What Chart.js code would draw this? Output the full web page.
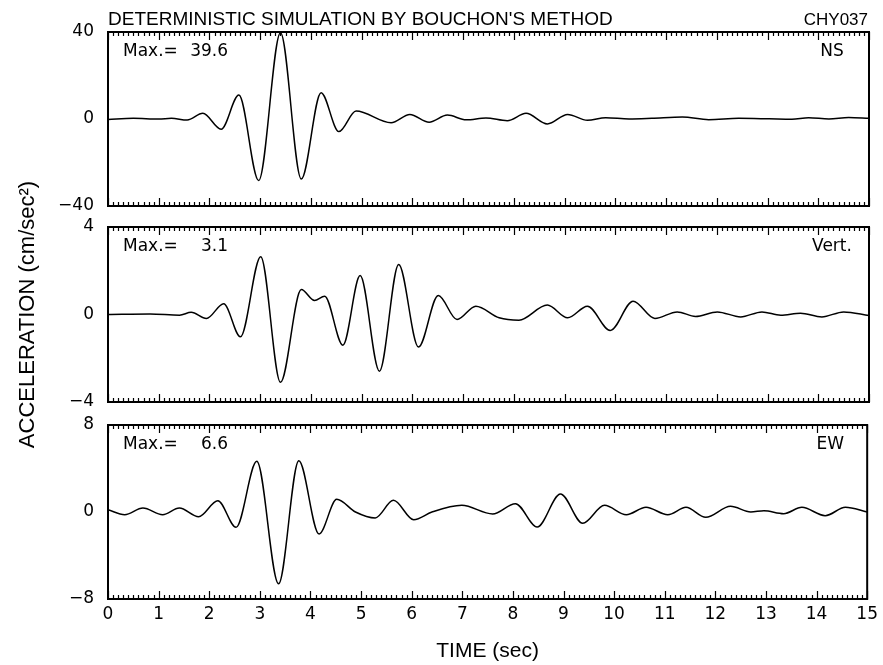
<!DOCTYPE html>
<html>
<head>
<meta charset="utf-8">
<title>CHY037 deterministic simulation</title>
<script src="https://cdn.jsdelivr.net/npm/chart.js@4/dist/chart.umd.min.js"></script>
<style>
  body { margin: 0; background: #fff; }
  #wrap { position: relative; width: 883px; height: 665px; }
  #wrap canvas { position: absolute; left: 0; top: 0; }
</style>
</head>
<body>
<div id="wrap">
  <canvas id="ns" width="883" height="665"></canvas>
  <canvas id="vert" width="883" height="665"></canvas>
  <canvas id="ew" width="883" height="665"></canvas>
</div>
<script>
// --- data ---
const nsTime = [0, 0.5, 1.0, 1.25, 1.56, 1.87, 2.23, 2.58, 2.97, 3.40, 3.81, 4.20, 4.55, 4.89, 5.58, 5.95, 6.33, 6.69, 7.06, 7.45, 7.87, 8.24, 8.66, 9.06, 9.45, 9.81, 10.27, 10.72, 11.32, 11.84, 12.43, 13.03, 13.48, 13.81, 14.21, 14.60, 15.0];
const nsAccel = [-0.2, 0.3, 0.0, 0.3, -0.5, 2.6, -4.7, 11.0, -28.3, 39.6, -27.6, 12.1, -5.8, 3.7, -1.7, 2.1, -1.5, 1.8, -0.4, 0.5, -0.8, 2.6, -2.3, 2.1, -0.6, 0.6, 0.0, 0.3, 0.9, -0.3, 0.3, 0.1, -0.1, 0.6, 0.0, 0.7, 0.3];

const vertTime = [0, 0.83, 1.41, 1.64, 1.94, 2.28, 2.61, 3.01, 3.40, 3.81, 4.07, 4.27, 4.63, 4.97, 5.35, 5.73, 6.12, 6.51, 6.88, 7.25, 7.71, 8.10, 8.66, 9.06, 9.45, 9.90, 10.35, 10.78, 11.22, 11.58, 12.01, 12.47, 12.89, 13.26, 13.65, 14.07, 14.50, 15.0];
const vertAccel = [0, 0.02, -0.03, 0.1, -0.18, 0.49, -1.02, 2.64, -3.1, 1.14, 0.64, 0.84, -1.40, 1.78, -2.59, 2.29, -1.49, 0.87, -0.23, 0.38, -0.15, -0.26, 0.43, -0.15, 0.38, -0.73, 0.61, -0.18, 0.12, -0.09, 0.12, -0.11, 0.12, -0.03, 0.06, -0.11, 0.12, -0.05];

const ewTime = [0, 0.33, 0.69, 1.08, 1.41, 1.79, 2.17, 2.53, 2.94, 3.37, 3.77, 4.17, 4.52, 4.89, 5.28, 5.64, 6.04, 6.40, 6.99, 7.60, 8.05, 8.48, 8.94, 9.38, 9.81, 10.24, 10.63, 11.06, 11.42, 11.81, 12.30, 12.70, 12.96, 13.35, 13.71, 14.17, 14.57, 15.0];
const ewAccel = [0.2, -0.25, 0.37, -0.25, 0.37, -0.43, 1.04, -1.41, 4.66, -6.6, 4.72, -2.02, 1.17, 0.0, -0.55, 1.07, -0.71, 0.0, 0.61, -0.18, 0.77, -1.38, 1.66, -1.04, 0.61, -0.25, 0.43, -0.25, 0.43, -0.49, 0.52, 0.0, 0.12, -0.15, 0.43, -0.34, 0.43, 0.0];

const components = ['NS', 'Vert.', 'EW'];
const maxLabels = ['39.6', '3.1', '6.6'];
const yLimits = [40, 4, 8];
const timeRange = [0, 15];
const minorStep = 0.1;
const stationName = 'CHY037';
const headerText = "DETERMINISTIC SIMULATION BY BOUCHON'S METHOD";

// --- layout ---
const W = 883, H = 665;
const PLOT_LEFT = 108, PLOT_RIGHT = 869;
const panelTops = [32, 227, 425];
const panelBottoms = [206, 402, 599];
const SANS = "'Liberation Sans', Arial, Helvetica, sans-serif";
const WIDE = "'DejaVu Sans', Verdana, sans-serif";

Chart.defaults.font.family = SANS;
Chart.defaults.color = '#000';

const fmtTick = v => (v < 0 ? '\u2212' + Math.abs(v) : String(v));

// frame plus inward tick marks on top and bottom edges
const frameTicks = {
  id: 'frameTicks',
  afterDatasetsDraw(chart) {
    const { ctx, chartArea: a, scales: { x } } = chart;
    ctx.save();
    ctx.strokeStyle = '#000';
    ctx.lineWidth = 1.2;
    ctx.beginPath();
    const n = Math.round((timeRange[1] - timeRange[0]) / minorStep);
    for (let i = 0; i <= n; i++) {
      const px = Math.round(x.getPixelForValue(timeRange[0] + i * minorStep)) + 0.5;
      const len = i % 10 === 0 ? 8 : 4;
      ctx.moveTo(px, a.top); ctx.lineTo(px, a.top + len);
      ctx.moveTo(px, a.bottom); ctx.lineTo(px, a.bottom - len);
    }
    ctx.stroke();
    ctx.lineWidth = 2;
    ctx.strokeRect(a.left, a.top, a.right - a.left, a.bottom - a.top);
    ctx.restore();
  }
};

// panel annotations: "Max.=" value, component name, header line
const panelText = {
  id: 'panelText',
  afterDraw(chart, args, opts) {
    const { ctx, chartArea: a } = chart;
    ctx.save();
    ctx.fillStyle = '#000';
    ctx.textBaseline = 'middle';
    ctx.font = '17px ' + WIDE;
    const y = a.top + 20;
    ctx.textAlign = 'left';
    ctx.fillText('Max.=', a.left + 15, y);
    ctx.textAlign = 'right';
    ctx.fillText(opts.maxLabel, a.left + 120, y);
    ctx.textAlign = 'center';
    ctx.fillText(opts.comp, a.right - 37, y);
    if (opts.header) {
      ctx.font = '19px ' + SANS;
      ctx.textAlign = 'left';
      ctx.fillText(headerText, a.left, 20);
      ctx.font = '17px ' + SANS;
      ctx.textAlign = 'right';
      ctx.fillText(stationName, a.right - 1, 20);
    }
    ctx.restore();
  }
};

function makePanel(id, idx, times, accel) {
  const isBottom = idx === 2;
  const lim = yLimits[idx];
  const xScale = {
    type: 'linear', min: timeRange[0], max: timeRange[1],
    display: isBottom,
    grid: { display: false, drawTicks: false },
    border: { display: false },
    ticks: { stepSize: 1, padding: 5, maxRotation: 0, autoSkip: false, font: { family: WIDE, size: 17 } },
    title: { display: true, text: 'TIME (sec)', font: { size: 21 }, padding: { top: 0, bottom: 1 } }
  };
  if (isBottom) xScale.afterFit = s => { s.height = H - panelBottoms[idx]; };

  return new Chart(document.getElementById(id), {
    type: 'line',
    data: {
      datasets: [{
        data: times.map((t, i) => ({ x: t, y: accel[i] })),
        borderColor: '#000',
        borderWidth: 1.5,
        pointRadius: 0,
        fill: false,
        cubicInterpolationMode: 'monotone'
      }]
    },
    options: {
      responsive: false,
      animation: false,
      events: [],
      layout: {
        padding: {
          left: 0,
          right: W - PLOT_RIGHT,
          top: panelTops[idx],
          bottom: isBottom ? 0 : H - panelBottoms[idx]
        }
      },
      plugins: {
        legend: { display: false },
        tooltip: { enabled: false },
        panelText: { comp: components[idx], maxLabel: maxLabels[idx], header: idx === 0 }
      },
      scales: {
        x: xScale,
        y: {
          min: -lim, max: lim,
          grid: { display: false, drawTicks: false },
          border: { display: false },
          ticks: { stepSize: lim, padding: 14, font: { family: WIDE, size: 17 }, callback: fmtTick },
          title: {
            display: idx === 1,
            text: 'ACCELERATION (cm/sec\u00B2)',
            font: { size: 22 },
            padding: { top: 15, bottom: 0 }
          },
          afterFit: s => { s.width = PLOT_LEFT; }
        }
      }
    },
    plugins: [frameTicks, panelText]
  });
}

makePanel('ns', 0, nsTime, nsAccel);
makePanel('vert', 1, vertTime, vertAccel);
makePanel('ew', 2, ewTime, ewAccel);
</script>
</body>
</html>
